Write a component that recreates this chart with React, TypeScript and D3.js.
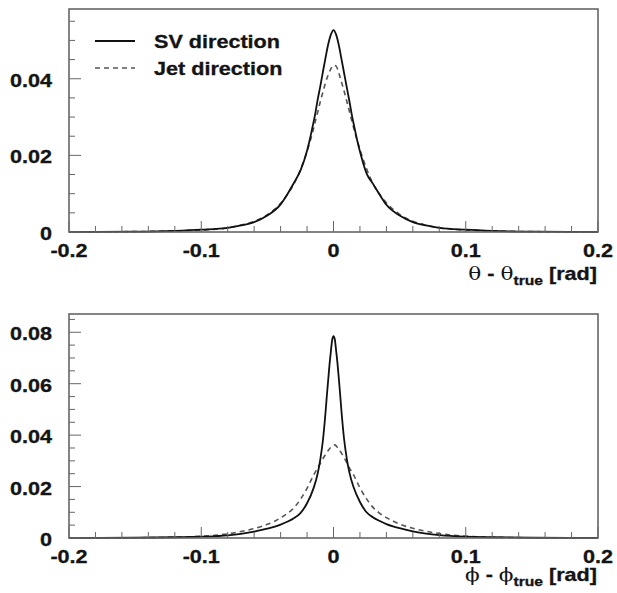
import React from 'react';
import * as d3 from 'd3';

// ---- data ----
const xTickValues = [-0.2, -0.1, 0, 0.1, 0.2];
const thetaYTicks = [0, 0.02, 0.04];
const phiYTicks = [0, 0.02, 0.04, 0.06, 0.08];
const legendLabels = ['SV direction', 'Jet direction'];

const thetaX = [-0.2, -0.15, -0.12, -0.1, -0.08, -0.07, -0.06, -0.05, -0.04, -0.035, -0.03, -0.025, -0.02, -0.018, -0.016, -0.014, -0.012, -0.01, -0.008, -0.006, -0.004, -0.002,
  0,
  0.002, 0.004, 0.006, 0.008, 0.01, 0.012, 0.014, 0.016, 0.018, 0.02, 0.025, 0.03, 0.035, 0.04, 0.05, 0.06, 0.07, 0.08, 0.1, 0.12, 0.15, 0.2];
const thetaSV = [0.00003, 0.0001, 0.0003, 0.0006, 0.0011, 0.0017, 0.0026, 0.0043, 0.0072, 0.0098, 0.0128, 0.0160, 0.0212, 0.0240, 0.0272, 0.0305, 0.0345, 0.0380, 0.0418, 0.0455, 0.0490, 0.0515,
  0.0527,
  0.0515, 0.0488, 0.0452, 0.0415, 0.0378, 0.0342, 0.0303, 0.0270, 0.0238, 0.0210, 0.0153, 0.0125, 0.0097, 0.0071, 0.0043, 0.0026, 0.0017, 0.0011, 0.0006, 0.0003, 0.0001, 0.00003];
const thetaJet = [0.00003, 0.0001, 0.0003, 0.0005, 0.0011, 0.0018, 0.0028, 0.0045, 0.0075, 0.0097, 0.0125, 0.0163, 0.0210, 0.0233, 0.0258, 0.0285, 0.0312, 0.0340, 0.0365, 0.0390, 0.0410, 0.0426,
  0.0435,
  0.0433, 0.0415, 0.0392, 0.0368, 0.0342, 0.0315, 0.0288, 0.0262, 0.0238, 0.0215, 0.0165, 0.0125, 0.0097, 0.0076, 0.0046, 0.0028, 0.0018, 0.0011, 0.0005, 0.0003, 0.0001, 0.00003];

const phiX = [-0.2, -0.15, -0.12, -0.1, -0.08, -0.07, -0.06, -0.05, -0.045, -0.04, -0.035, -0.03, -0.025, -0.02, -0.015, -0.012, -0.01, -0.008, -0.006, -0.005, -0.004, -0.003, -0.002, -0.001,
  0,
  0.001, 0.002, 0.003, 0.004, 0.005, 0.006, 0.008, 0.01, 0.012, 0.015, 0.02, 0.025, 0.03, 0.035, 0.04, 0.045, 0.05, 0.06, 0.07, 0.08, 0.1, 0.12, 0.15, 0.2];
const phiSV = [0.00003, 0.0001, 0.0003, 0.0005, 0.0010, 0.0016, 0.0025, 0.0036, 0.0043, 0.0052, 0.0063, 0.0077, 0.0097, 0.0135, 0.0195, 0.0250, 0.0305, 0.0380, 0.0490, 0.0555, 0.0615, 0.0675, 0.0725, 0.0770,
  0.0785,
  0.0772, 0.0728, 0.0680, 0.0622, 0.0560, 0.0495, 0.0385, 0.0310, 0.0255, 0.0200, 0.0140, 0.0100, 0.0080, 0.0066, 0.0054, 0.0045, 0.0038, 0.0026, 0.0017, 0.0011, 0.0005, 0.0003, 0.0001, 0.00003];
const phiJet = [0.00003, 0.0001, 0.0003, 0.0007, 0.0016, 0.0025, 0.0037, 0.0053, 0.0064, 0.0078, 0.0095, 0.0117, 0.0150, 0.0193, 0.0245, 0.0272, 0.0290, 0.0308, 0.0325, 0.0332, 0.0340, 0.0347, 0.0353, 0.0358,
  0.0361,
  0.0362, 0.0358, 0.0352, 0.0345, 0.0338, 0.0330, 0.0313, 0.0293, 0.0273, 0.0247, 0.0195, 0.0152, 0.0118, 0.0096, 0.0079, 0.0066, 0.0054, 0.0038, 0.0026, 0.0017, 0.0007, 0.0003, 0.0001, 0.00003];

// ---- layout ----
const W = 617;
const H = 593;
const LEFT = 69;
const RIGHT = 598;
const FONT = "'Liberation Sans', Arial, Helvetica, sans-serif";
const GREEK_FONT = "'DejaVu Serif', 'Liberation Serif', serif";
const TEXT_COLOR = '#141414';
const FRAME_COLOR = '#666666';
const STRETCH = 1.2;

type PanelProps = {
  top: number;
  bottom: number;
  yMax: number;
  yTicks: number[];
  xs: number[];
  sv: number[];
  jet: number[];
  greek: string;
  titleY: number;
  showLegend: boolean;
};

function SText(props: { x: number; y: number; anchor: string; size?: number; children: any }) {
  const { x, y, anchor, size = 18, children } = props;
  return (
    <g transform={`translate(${x},${y}) scale(${STRETCH},1)`}>
      <text x={0} y={0} textAnchor={anchor} fontFamily={FONT} fontWeight="bold" fontSize={size} fill={TEXT_COLOR} stroke={TEXT_COLOR} strokeWidth={0.3}>
        {children}
      </text>
    </g>
  );
}

function Panel(p: PanelProps) {
  const x = d3.scaleLinear().domain([-0.2, 0.2]).range([LEFT, RIGHT]);
  const y = d3.scaleLinear().domain([0, p.yMax]).range([p.bottom, p.top]);
  const line = d3
    .line<number>()
    .x((_d, i) => x(p.xs[i]))
    .y((d) => y(d))
    .curve(d3.curveMonotoneX);

  const xMinor = d3.range(-0.2, 0.2001, 0.02).map((v) => +v.toFixed(3));
  const yMinor = d3.range(0, p.yMax, 0.005).map((v) => +v.toFixed(4));
  const isMajorX = (v: number) => xTickValues.some((t) => Math.abs(t - v) < 1e-6);
  const isMajorY = (v: number) => p.yTicks.some((t) => Math.abs(t - v) < 1e-6);

  return (
    <g>
      {/* curves */}
      <path d={line(p.jet) || ''} fill="none" stroke="#555" strokeWidth={1.6} strokeDasharray="5,4" />
      <path d={line(p.sv) || ''} fill="none" stroke="#111" strokeWidth={1.8} />

      {/* x ticks */}
      {xMinor.map((v) => (
        <line key={'xt' + v} x1={x(v)} x2={x(v)} y1={p.bottom} y2={p.bottom - (isMajorX(v) ? 11 : 6)} stroke={FRAME_COLOR} strokeWidth={1} />
      ))}
      {/* y ticks */}
      {yMinor.map((v) => (
        <line key={'yt' + v} x1={LEFT} x2={LEFT + (isMajorY(v) ? 12 : 6)} y1={y(v)} y2={y(v)} stroke={FRAME_COLOR} strokeWidth={1} />
      ))}

      {/* frame */}
      <rect x={LEFT} y={p.top} width={RIGHT - LEFT} height={p.bottom - p.top} fill="none" stroke={FRAME_COLOR} strokeWidth={1.6} />

      {/* x labels */}
      {xTickValues.map((v) => (
        <SText key={'xl' + v} x={x(v)} y={p.bottom + 25} anchor="middle">
          {String(v)}
        </SText>
      ))}
      {/* y labels */}
      {p.yTicks.map((v) => (
        <SText key={'yl' + v} x={52} y={y(v) + 8} anchor="end">
          {String(v)}
        </SText>
      ))}

      {/* axis title */}
      <g transform={`translate(597,${p.titleY}) scale(${STRETCH},1)`}>
        <text x={0} y={0} textAnchor="end" fontFamily={FONT} fontWeight="bold" fontSize={18} fill={TEXT_COLOR} stroke={TEXT_COLOR} strokeWidth={0.3}>
          <tspan fontFamily={GREEK_FONT} fontWeight="normal" strokeWidth={0}>{p.greek}</tspan>
          <tspan> - </tspan>
          <tspan fontFamily={GREEK_FONT} fontWeight="normal" strokeWidth={0}>{p.greek}</tspan>
          <tspan fontSize={13} dy={5}>true</tspan>
          <tspan dy={-5}> [rad]</tspan>
        </text>
      </g>

      {/* legend */}
      {p.showLegend && (
        <g>
          <line x1={95} x2={135} y1={41} y2={41} stroke="#111" strokeWidth={1.8} />
          <line x1={95} x2={135} y1={68} y2={68} stroke="#555" strokeWidth={1.6} strokeDasharray="5,4" />
          <SText x={154} y={48} anchor="start">{legendLabels[0]}</SText>
          <SText x={154} y={75} anchor="start">{legendLabels[1]}</SText>
        </g>
      )}
    </g>
  );
}

export default function App() {
  return (
    <svg width={W} height={H} style={{ position: 'absolute', left: 0, top: 0, background: '#fff' }}>
      <rect x={0} y={0} width={W} height={H} fill="#fff" />
      <Panel top={9} bottom={232} yMax={0.0582} yTicks={thetaYTicks} xs={thetaX} sv={thetaSV} jet={thetaJet} greek="θ" titleY={280} showLegend={true} />
      <Panel top={314} bottom={538} yMax={0.0871} yTicks={phiYTicks} xs={phiX} sv={phiSV} jet={phiJet} greek="ϕ" titleY={581} showLegend={false} />
    </svg>
  );
}
